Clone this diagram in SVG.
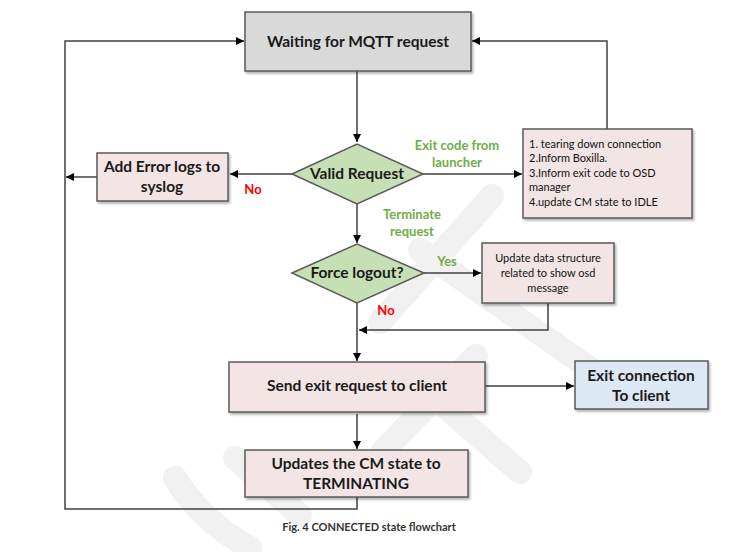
<svg xmlns="http://www.w3.org/2000/svg" width="748" height="552" viewBox="0 0 748 552">
<defs>
  <marker id="ah" viewBox="0 0 10 10" refX="10" refY="5" markerWidth="8" markerHeight="8" markerUnits="userSpaceOnUse" orient="auto">
    <path d="M0,0 L10,5 L0,10 z" fill="#000"/>
  </marker>
  <filter id="sh" x="-10%" y="-10%" width="130%" height="140%">
    <feDropShadow dx="1.5" dy="2" stdDeviation="1.2" flood-color="#000" flood-opacity="0.3"/>
  </filter>
</defs>
<style>
  .box{stroke:#5a5a5a;stroke-width:1.5;filter:url(#sh)}
  .pink{fill:#f3e5e5}
  .grey{fill:#d9d9d9}
  .blue{fill:#dde8f5}
  .dia{fill:#c6dfb4;stroke:#5a5a5a;stroke-width:1.5}
  .t{font-family:Lato,"Open Sans",sans-serif;font-weight:bold;fill:#1a1a1a;text-anchor:middle}
  .big{font-size:15.5px}
  .sm{font-size:11px;font-weight:normal;fill:#111}
  .lbl{font-family:Lato,"Open Sans",sans-serif;font-weight:bold;font-size:13px;text-anchor:middle}
  .g{fill:#70ad47}
  .r{fill:#ff0000}
  .c{fill:none;stroke:#404040;stroke-width:1.5}
  .wm{fill:none;stroke:#f1f1f1;stroke-width:24;stroke-linecap:round}
</style>
<g id="watermark">
  <path class="wm" d="M492,196 L380,322"/>
  <path class="wm" d="M420,250 L595,372"/>
  <path class="wm" d="M476,356 L382,452"/>
  <path class="wm" d="M420,385 L520,472"/>
  <path class="wm" d="M235,458 L300,515"/>
  <path class="wm" d="M175,478 Q200,520 250,548"/>
</g>
<g id="connectors">
  <path class="c" d="M357,71 V142" marker-end="url(#ah)"/>
  <path class="c" d="M292,174 H230" marker-end="url(#ah)"/>
  <path class="c" d="M97,177 H66" marker-end="url(#ah)"/>
  <path class="c" d="M423,174 H522" marker-end="url(#ah)"/>
  <path class="c" d="M607,129 V41 H472" marker-end="url(#ah)"/>
  <path class="c" d="M357,204 V243" marker-end="url(#ah)"/>
  <path class="c" d="M424,273 H481" marker-end="url(#ah)"/>
  <path class="c" d="M548,303 V330 H359" marker-end="url(#ah)"/>
  <path class="c" d="M357,303 V361" marker-end="url(#ah)"/>
  <path class="c" d="M485,386 H574" marker-end="url(#ah)"/>
  <path class="c" d="M357,414 V449" marker-end="url(#ah)"/>
  <path class="c" d="M357,497 V509 H65 V41 H244" marker-end="url(#ah)"/>
</g>
<g id="waiting">
  <rect class="box grey" x="245" y="12" width="226" height="59"/>
  <text class="t big" x="358" y="47">Waiting for MQTT request</text>
</g>
<g id="valid">
  <polygon class="dia" points="292,174 357,144 423,174 357,204"/>
  <text class="t big" x="357" y="179">Valid Request</text>
</g>
<g id="adderror">
  <rect class="box pink" x="97" y="153" width="131" height="48"/>
  <text class="t big" x="162" y="172">Add Error logs to</text>
  <text class="t big" x="162" y="192">syslog</text>
</g>
<g id="teardown">
  <rect class="box pink" x="523" y="129" width="169" height="89"/>
  <text class="t sm" x="529" y="148" style="text-anchor:start">1. tearing down connection</text>
  <text class="t sm" x="529" y="162" style="text-anchor:start">2.Inform Boxilla.</text>
  <text class="t sm" x="529" y="177" style="text-anchor:start">3.Inform exit code to OSD</text>
  <text class="t sm" x="529" y="191" style="text-anchor:start">manager</text>
  <text class="t sm" x="529" y="206" style="text-anchor:start">4.update CM state to IDLE</text>
</g>
<g id="force">
  <polygon class="dia" points="292,273 357,244 424,273 357,303"/>
  <text class="t big" x="357" y="278">Force logout?</text>
</g>
<g id="updatedata">
  <rect class="box pink" x="482" y="243" width="132" height="60"/>
  <text class="t sm" x="548" y="262">Update data structure</text>
  <text class="t sm" x="548" y="277">related to show osd</text>
  <text class="t sm" x="548" y="292">message</text>
</g>
<g id="sendexit">
  <rect class="box pink" x="229" y="362" width="256" height="50"/>
  <text class="t big" x="357" y="391">Send exit request to client</text>
</g>
<g id="exitconn">
  <rect class="box blue" x="575" y="361" width="133" height="48"/>
  <text class="t big" x="641" y="381">Exit connection</text>
  <text class="t big" x="641" y="401">To client</text>
</g>
<g id="updates">
  <rect class="box pink" x="245" y="450" width="223" height="47"/>
  <text class="t big" x="356" y="469">Updates the CM state to</text>
  <text class="t big" x="356" y="489">TERMINATING</text>
</g>
<g id="labels">
  <text class="lbl g" x="457" y="150">Exit code from</text>
  <text class="lbl g" x="457" y="167">launcher</text>
  <text class="lbl r" x="253" y="194">No</text>
  <text class="lbl g" x="412" y="219">Terminate</text>
  <text class="lbl g" x="412" y="236">request</text>
  <text class="lbl g" x="447" y="266">Yes</text>
  <text class="lbl r" x="386" y="315">No</text>
</g>
<text class="t" x="369" y="531" style="font-size:11px;fill:#333">Fig. 4 CONNECTED state flowchart</text>
</svg>
